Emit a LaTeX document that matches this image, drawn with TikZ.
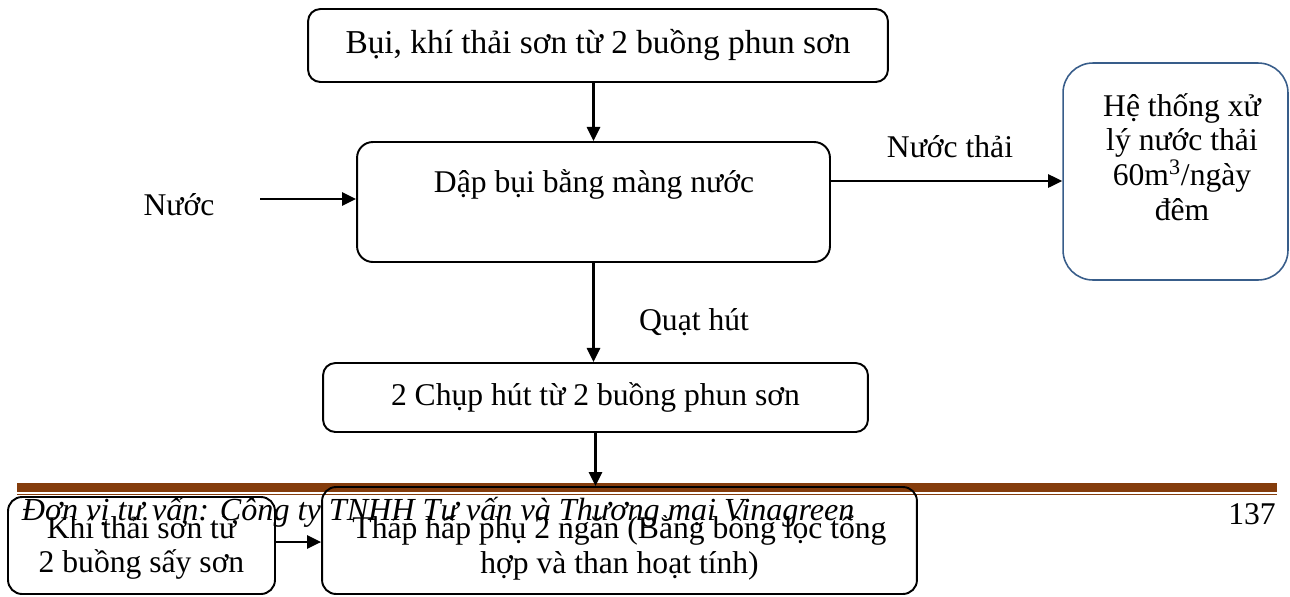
\documentclass[tikz,border=0pt]{standalone}
\usepackage{fontspec}
\setmainfont{Liberation Serif}
\usetikzlibrary{arrows.meta}
\definecolor{footbrown}{HTML}{843C0C}
\definecolor{tankblue}{HTML}{385D8A}

\begin{document}
\begin{tikzpicture}[x=0.02cm, y=-0.02cm, line width=1.1pt, font=\fontsize{18}{19.8}\selectfont,
  box/.style={draw, rounded corners=#1, inner sep=0pt, align=center},
  box/.default=6pt,
  arr/.style={-{Triangle[length=8pt, width=7.5pt]}, line width=1.2pt}]
  \useasboundingbox (0,0) rectangle (1290,596);
  % page footer rule
  \draw[footbrown, line width=5pt] (17,487.5) -- (1277,487.5);
  \draw[footbrown, line width=1.1pt] (17,494.5) -- (1277,494.5);
  % process boxes
  \node[box=7pt, minimum width=11.6cm, minimum height=1.46cm, font=\fontsize{19}{19.8}\selectfont] (bui) at (598,45.5) {Bụi, khí thải sơn từ 2 buồng phun sơn};
  \node[box=9pt, minimum width=9.46cm, minimum height=2.4cm] (dap) at (593.5,202) {};
  \node (dapt) at (594,184) {Dập bụi bằng màng nước};
  \node[box=17pt, draw=tankblue, line width=0.9pt, minimum width=4.5cm, minimum height=4.34cm] (xuly) at (1175.5,171.5) {};
  \node[align=center] (xulyt) at (1182,157) {Hệ thống xử\\lý nước thải\\60m\textsuperscript{3}/ngày\\đêm};
  \node[box=7pt, minimum width=10.9cm, minimum height=1.38cm] (chup) at (595.5,397.5) {2 Chụp hút từ 2 buồng phun sơn};
  \node[box=8pt, minimum width=5.34cm, minimum height=1.94cm] (say) at (141.5,545.5) {};
  \node[align=center] (sayt) at (141.5,548) {Khí thải sơn từ\\2 buồng sấy sơn};
  \node[box=8pt, minimum width=11.9cm, minimum height=2.14cm] (thap) at (619.5,540.5) {};
  \node[align=center] (thapt) at (619.5,548) {Tháp hấp phụ 2 ngăn (Bằng bông lọc tổng\\hợp và than hoạt tính)};
  % side labels
  \node (nuoc) at (179,205) {Nước};
  \node (nuocthai) at (950,147) {Nước thải};
  \node (quat) at (694,322) {Quạt hút};
  \coordinate (nuocvao) at (260,199);
  \coordinate (thaira) at (830,181);
  % flow arrows
  \draw[arr] (bui.south -| dap.north) -- (dap.north);
  \draw[arr] (nuocvao) -- (nuocvao -| dap.west);
  \draw[arr] (thaira) -- (thaira -| xuly.west);
  \draw[arr] (dap.south) -- (dap.south |- chup.north);
  \draw[arr] (chup.south) -- (chup.south |- thap.north);
  \draw[arr] (say.east |- 0,542) -- (thap.west |- 0,542);
  % footer text
  \node[anchor=west, font=\fontsize{18.3}{19.8}\selectfont\itshape] (chantrang) at (15,512) {Đơn vị tư vấn: Công ty TNHH Tư vấn và Thương mại Vinagreen};
  \node (sotrang) at (1252,514) {137};
\end{tikzpicture}
\end{document}
